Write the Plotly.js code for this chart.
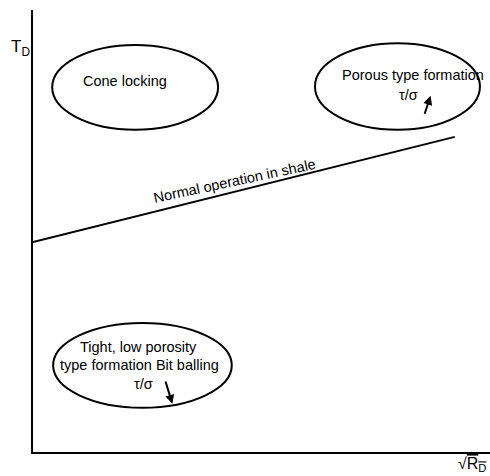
<!DOCTYPE html>
<html>
<head>
<meta charset="utf-8">
<script src="https://cdn.plot.ly/plotly-3.0.1.min.js"></script>
<style>html,body{margin:0;padding:0;background:#fff;}#chart{width:490px;height:476px;}</style>
</head>
<body>
<div id="chart"></div>
<script>
// Trend line "Normal operation in shale"
var lineX = [0, 9.23];
var lineY = [4.75, 7.13];

// Regions (ellipses): [x0, x1, y0, y1]
var regionNames = ["Cone locking", "Porous type formation", "Tight, low porosity"];
var regionX0 = [0.42, 6.17, 0.44];
var regionX1 = [4.05, 9.78, 4.35];
var regionY0 = [7.29, 7.29, 1.00];
var regionY1 = [9.21, 9.25, 2.92];

// Region labels
var labelText = ["Cone locking", "Porous type formation", "τ/σ",
                 "Tight, low porosity", "type formation Bit balling", "τ/σ"];
var labelX = [2.01, 8.32, 8.21, 2.30, 2.32, 2.41];
var labelY = [8.40, 8.53, 8.08, 2.38, 1.97, 1.54];

// Trend arrows: tail -> head
var arrowTailX = [8.56, 2.89];
var arrowTailY = [7.62, 1.63];
var arrowHeadX = [8.70, 3.05];
var arrowHeadY = [8.06, 1.09];

// Line label
var lineLabel = "Normal operation in shale";
var lineLabelX = 4.40, lineLabelY = 6.13;

var yTitle = "T<sub>D</sub>";
var xTitle = "√<span style='text-decoration:overline'>R<sub>D</sub></span>";

var font = {family: "Liberation Sans, Arial, sans-serif", size: 14.5, color: "#000"};

var traces = [{
  x: lineX, y: lineY, mode: "lines", type: "scatter",
  line: {color: "#000", width: 2}, hoverinfo: "skip", showlegend: false
}];

var shapes = [];
for (var i = 0; i < regionNames.length; i++) {
  shapes.push({type: "circle", xref: "x", yref: "y",
    x0: regionX0[i], x1: regionX1[i], y0: regionY0[i], y1: regionY1[i],
    line: {color: "#000", width: 2}});
}

var annotations = [];
for (var j = 0; j < labelText.length; j++) {
  annotations.push({x: labelX[j], y: labelY[j], xref: "x", yref: "y",
    text: labelText[j], showarrow: false, font: font});
}
for (var k = 0; k < arrowTailX.length; k++) {
  annotations.push({x: arrowHeadX[k], y: arrowHeadY[k], ax: arrowTailX[k], ay: arrowTailY[k],
    xref: "x", yref: "y", axref: "x", ayref: "y", text: "",
    showarrow: true, arrowhead: 2, arrowsize: 0.9, arrowwidth: 2, arrowcolor: "#000"});
}
annotations.push({x: lineLabelX, y: lineLabelY, xref: "x", yref: "y", text: lineLabel,
  showarrow: false, textangle: -12, font: font});
annotations.push({x: -0.028, y: 0.914, xref: "paper", yref: "paper", text: yTitle,
  showarrow: false, xanchor: "center", yanchor: "middle", font: {family: font.family, size: 17, color: "#000"}});
annotations.push({x: 0.994, y: -0.052, xref: "paper", yref: "paper", text: xTitle,
  showarrow: false, xanchor: "right", yanchor: "bottom", borderpad: 0,
  font: {family: font.family, size: 16, color: "#000"}});

var layout = {
  width: 490, height: 476,
  margin: {l: 33, r: 0, t: 10, b: 24},
  paper_bgcolor: "#fff", plot_bgcolor: "#fff",
  showlegend: false,
  xaxis: {range: [0, 10], showgrid: false, zeroline: false, showticklabels: false, ticks: "",
          showline: true, linecolor: "#000", linewidth: 2, fixedrange: true},
  yaxis: {range: [0, 10], showgrid: false, zeroline: false, showticklabels: false, ticks: "",
          showline: true, linecolor: "#000", linewidth: 2, fixedrange: true},
  shapes: shapes,
  annotations: annotations
};

Plotly.newPlot("chart", traces, layout, {staticPlot: true, displayModeBar: false});
</script>
</body>
</html>
